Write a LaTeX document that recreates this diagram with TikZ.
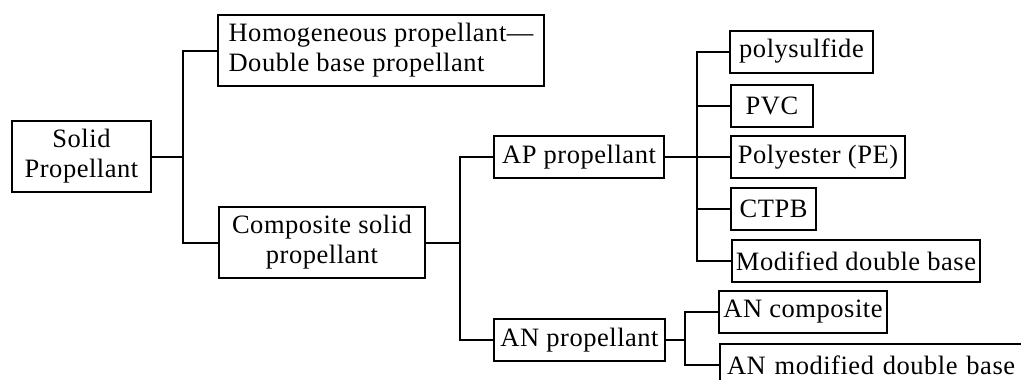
\documentclass[tikz,border=0pt]{standalone}
\usepackage{fontspec}
\setmainfont{Liberation Serif}[LetterSpace=2]
\begin{document}
\begin{tikzpicture}[x=1pt,y=-1pt,
  box/.style={draw,line width=2pt,inner sep=0pt,minimum height=42pt,
    font=\fontsize{26.5}{30}\selectfont},
  tall/.style={minimum height=71pt},
  conn/.style={line width=2pt}]
\useasboundingbox (0,0) rectangle (1021,380);
% level 0 and 1
\node[box,tall,minimum width=139pt,align=center] (solid) at (81.5,156.5) {Solid\\Propellant};
\node[box,tall,minimum width=326pt,align=left] (homo) at (381,50.5)
  {Homogeneous propellant—\\Double base propellant};
\node[box,tall,minimum width=206pt,align=center] (comp) at (322,242.5) {Composite solid\\propellant};
% level 2
\node[box,minimum width=170pt] (ap) at (579,157) {AP propellant};
\node[box,minimum width=171pt] (an) at (579.5,340) {AN propellant};
% level 3 (AP)
\node[box,minimum width=143pt] (poly) at (801.5,51.5) {polysulfide};
\node[box,minimum width=82pt] (pvc) at (772,106) {PVC};
\node[box,minimum width=174pt] (pe) at (818,157) {Polyester (PE)};
\node[box,minimum width=85pt] (ctpb) at (773.5,209) {CTPB};
\node[box,minimum width=248pt] (mdb) at (856,261) {Modified double base};
% level 3 (AN)
\node[box,minimum width=168pt] (anc) at (803,312) {AN composite};
\node[box,anchor=north west,text width=300pt,inner xsep=7pt,align=left,minimum height=42pt] (anm) at (719,343)
  {AN modified double base};
% junction coordinates
\coordinate (j1) at (183,0);
\coordinate (j2) at (460,0);
\coordinate (j3) at (697,0);
\coordinate (j4) at (685,0);
% connectors
\draw[conn] (solid.east) -- (solid.east -| j1);
\draw[conn] (homo.west) -- (homo.west -| j1) -- (comp.west -| j1) -- (comp.west);
\draw[conn] (comp.east) -- (comp.east -| j2);
\draw[conn] (ap.west) -- (ap.west -| j2) -- (an.west -| j2) -- (an.west);
\draw[conn] (ap.east) -- (pe.west);
\draw[conn] (poly.west) -- (poly.west -| j3) -- (mdb.west -| j3) -- (mdb.west);
\draw[conn] (pvc.west) -- (pvc.west -| j3);
\draw[conn] (ctpb.west) -- (ctpb.west -| j3);
\draw[conn] (an.east) -- (an.east -| j4);
\draw[conn] (anc.west) -- (anc.west -| j4) -- (anm.west -| j4) -- (anm.west);
\end{tikzpicture}
\end{document}
